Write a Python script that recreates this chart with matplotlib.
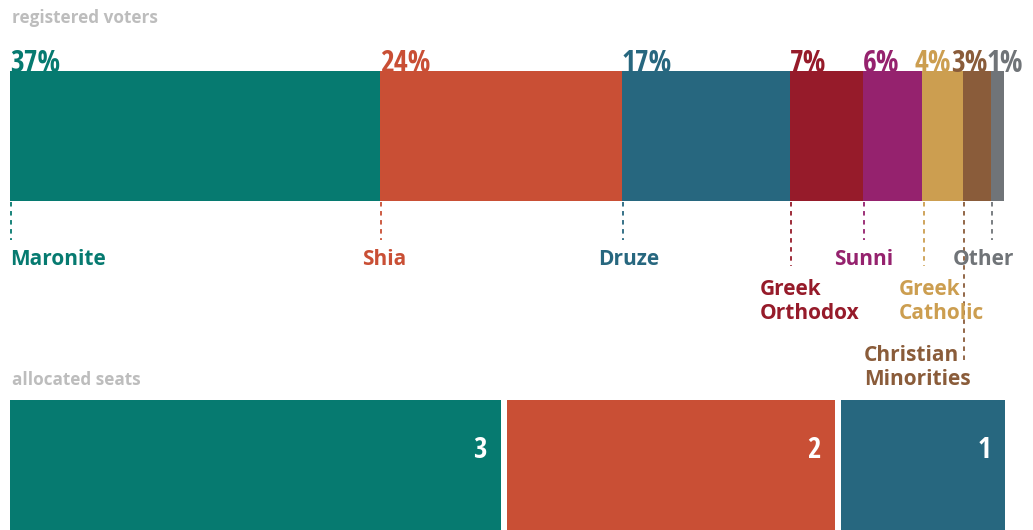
import matplotlib
matplotlib.use("Agg")
from matplotlib import pyplot as plt

groups = ["Maronite", "Shia", "Druze", "Greek\nOrthodox", "Sunni",
          "Greek\nCatholic", "Christian\nMinorities", "Other"]
voters = [37.2, 24.3, 16.9, 7.3, 6.0, 4.1, 2.8, 1.3]
colors = ["#067a70", "#c94f35", "#27677f", "#961b2a", "#95226e",
          "#cc9e50", "#8a5c3a", "#707478"]

seat_groups = ["Maronite", "Shia", "Druze"]
seats = [3, 2, 1]

# label placement: x offset (px) of label centre from the leader line,
# baseline of last label line, end of the dashed leader, shift of the % label
lab_dx = [0, 3, 6, 18, 0, 18, -47, -9]
lab_base = [265, 265, 265, 319, 265, 319, 385, 265]
line_end = [240, 240, 240, 266, 240, 266, 360, 240]
pct_dx = [0, 0, 0, 0, 0, -8, -12, -5]

W, H = 1033, 530
fig = plt.figure(figsize=(W / 100, H / 100), dpi=100)
ax = fig.add_axes([0, 0, 1, 1])
px = 9.95  # pixels per percent
ax.set_xlim(-10 / px, (W - 10) / px)
ax.set_ylim(H, 0)
ax.axis("off")

label_font = ["Open Sans", "DejaVu Sans"]
num_font = ["Open Sans Condensed", "DejaVu Sans"]
grey = "#bdbdbd"

ax.text(0.2, 18, "registered voters", color=grey, fontsize=12.3,
        fontweight="bold", family=label_font, va="center")
ax.text(0.2, 380, "allocated seats", color=grey, fontsize=12.3,
        fontweight="bold", family=label_font, va="center")

left = 0
for i, (g, v, c) in enumerate(zip(groups, voters, colors)):
    ax.barh(136, v, left=left, height=130, color=c, align="center")
    ax.text(left + pct_dx[i] / px, 72, f"{round(v)}%", color=c, fontsize=21.5,
            fontweight="bold", family=num_font, ha="left", va="baseline")
    lx = left + 0.12
    ax.plot([lx, lx], [202, line_end[i]], color=c, lw=1.3, ls=(0, (2.5, 2.5)))
    if i == 0:
        ax.text(left, lab_base[i], g, color=c, fontsize=15, fontweight="bold",
                family=label_font, ha="left", va="baseline")
    else:
        ax.text(lx + lab_dx[i] / px, lab_base[i], g, color=c, fontsize=15,
                fontweight="bold", family=label_font, ha="center",
                multialignment="left", va="baseline", linespacing=1.2)
    left += v

gap = 0.7
unit = (100 - gap * (len(seats) - 1)) / sum(seats)
left = 0
for g, s, c in zip(seat_groups, seats, colors):
    w = s * unit
    ax.barh(465, w, left=left, height=130, color=c, align="center")
    ax.text(left + w - 1.4, 450, str(s), color="white", fontsize=21,
            fontweight="bold", family=num_font, ha="right", va="center")
    left += w + gap

fig.savefig("out.png", dpi=100)
